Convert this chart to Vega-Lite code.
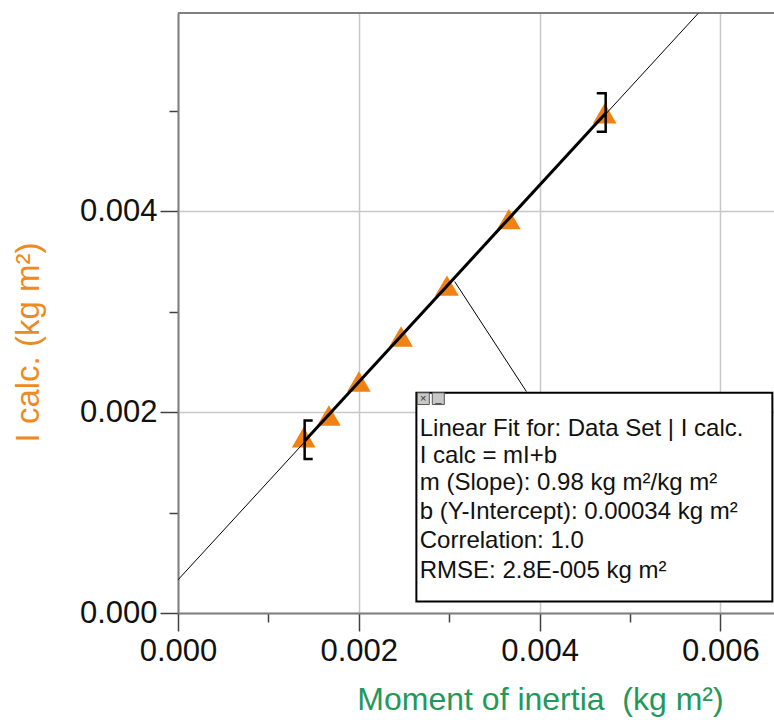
{
  "$schema": "https://vega.github.io/schema/vega-lite/v6.json",
  "width": 596,
  "height": 600,
  "autosize": {"type": "none"},
  "padding": {"left": 178, "top": 13, "right": 0, "bottom": 107},
  "background": "white",
  "config": {
    "view": {"stroke": null},
    "font": "Liberation Sans"
  },
  "encoding": {
    "x": {
      "field": "x", "type": "quantitative",
      "scale": {"domain": [0, 0.006593], "nice": false, "zero": false},
      "axis": {
        "values": [0, 0.001, 0.002, 0.003, 0.004, 0.005, 0.006],
        "format": ".3f",
        "labelExpr": "round(datum.value*1000) % 2 == 0 ? datum.label : ''",
        "tickSize": {"condition": {"test": "round(datum.value*1000) % 2 == 0", "value": 18}, "value": 9},
        "gridOpacity": {"condition": {"test": "round(datum.value*1000) % 2 == 0", "value": 1}, "value": 0},
        "gridColor": "#c8c8c8", "gridWidth": 1.5,
        "domainColor": "#808080", "domainWidth": 2,
        "tickColor": "#404040", "tickWidth": 1.5,
        "labelFont": "Liberation Sans", "labelFontSize": 31, "labelColor": "#111111", "labelPadding": 5,
        "labelFlush": false, "labelOverlap": false,
        "title": "Moment of inertia\u00a0 (kg m²)",
        "titleFont": "Liberation Sans", "titleFontSize": 32, "titleFontWeight": "normal", "titleColor": "#24985A",
        "titleX": 362, "titleY": 96, "titleBaseline": "alphabetic", "titleAlign": "center"
      }
    },
    "y": {
      "field": "y", "type": "quantitative",
      "scale": {"domain": [0, 0.005973], "nice": false, "zero": false},
      "axis": {
        "values": [0, 0.001, 0.002, 0.003, 0.004, 0.005],
        "format": ".3f",
        "labelExpr": "round(datum.value*1000) % 2 == 0 ? datum.label : ''",
        "tickSize": {"condition": {"test": "round(datum.value*1000) % 2 == 0", "value": 18}, "value": 9},
        "gridOpacity": {"condition": {"test": "round(datum.value*1000) % 2 == 0", "value": 1}, "value": 0},
        "gridColor": "#c8c8c8", "gridWidth": 1.5,
        "domainColor": "#808080", "domainWidth": 2,
        "tickColor": "#404040", "tickWidth": 1.5,
        "labelFont": "Liberation Sans", "labelFontSize": 31, "labelColor": "#111111", "labelPadding": 3,
        "labelFlush": false, "labelOverlap": false,
        "title": "I calc. (kg m²)",
        "titleFont": "Liberation Sans", "titleFontSize": 33, "titleFontWeight": "normal", "titleColor": "#EE8A22",
        "titleX": -140, "titleY": 329, "titleBaseline": "alphabetic", "titleAlign": "center", "titleAngle": -90
      }
    }
  },
  "layer": [
    {
      "data": {"values": [{"x": 0, "y": 0.005973}, {"x": 0.006593, "y": 0.005973}]},
      "mark": {"type": "line", "color": "#808080", "strokeWidth": 2}
    },
    {
      "data": {"values": [
        {"x": 0.001390, "y": 0.001749},
        {"x": 0.001669, "y": 0.001965},
        {"x": 0.002001, "y": 0.002304},
        {"x": 0.002467, "y": 0.002752},
        {"x": 0.002975, "y": 0.003259},
        {"x": 0.003660, "y": 0.003921},
        {"x": 0.004720, "y": 0.004975}
      ]},
      "mark": {"type": "point", "shape": "triangle-up", "filled": true, "size": 560, "color": "#F08214", "opacity": 1}
    },
    {
      "data": {"values": [{"x": 0, "y": 0.00033}, {"x": 0.005755, "y": 0.00597}]},
      "mark": {"type": "line", "color": "#000000", "strokeWidth": 1, "clip": true}
    },
    {
      "data": {"values": [{"x": 0.001401, "y": 0.001713}, {"x": 0.004731, "y": 0.004976}]},
      "mark": {"type": "line", "color": "#000000", "strokeWidth": 3}
    },
    {
      "data": {"values": [
        {"side": "left", "o": 1, "x": 0.001490, "y": 0.001916},
        {"side": "left", "o": 2, "x": 0.001401, "y": 0.001916},
        {"side": "left", "o": 3, "x": 0.001401, "y": 0.001532},
        {"side": "left", "o": 4, "x": 0.001490, "y": 0.001532},
        {"side": "right", "o": 1, "x": 0.004632, "y": 0.005174},
        {"side": "right", "o": 2, "x": 0.004731, "y": 0.005174},
        {"side": "right", "o": 3, "x": 0.004731, "y": 0.004792},
        {"side": "right", "o": 4, "x": 0.004632, "y": 0.004792}
      ]},
      "mark": {"type": "line", "color": "#000000", "strokeWidth": 2.5, "strokeJoin": "miter", "strokeCap": "butt"},
      "encoding": {"detail": {"field": "side"}, "order": {"field": "o", "type": "quantitative"}}
    },
    {
      "data": {"values": [{"x": 0.003061, "y": 0.003299}, {"x": 0.003854, "y": 0.002205}]},
      "mark": {"type": "line", "color": "#000000", "strokeWidth": 1}
    },
    {
      "data": {"values": [{"x": 0.002637, "x2": 0.006575, "y": 0.002192, "y2": 0.000115}]},
      "mark": {"type": "rect", "fill": "white", "stroke": "#000000", "strokeWidth": 2},
      "encoding": {"x2": {"field": "x2"}, "y2": {"field": "y2"}}
    },
    {
      "data": {"values": [
        {"x": 0.002647, "x2": 0.002780, "y": 0.002192, "y2": 0.002075, "t": "x"},
        {"x": 0.002813, "x2": 0.002946, "y": 0.002192, "y2": 0.002075, "t": "_"}
      ]},
      "mark": {"type": "rect", "fill": "#c8c8c8", "stroke": "#555555", "strokeWidth": 1},
      "encoding": {"x2": {"field": "x2"}, "y2": {"field": "y2"}}
    },
    {
      "data": {"values": [
        {"x": 0.002713, "y": 0.002133, "t": "×"},
        {"x": 0.002880, "y": 0.002133, "t": "_"}
      ]},
      "mark": {"type": "text", "font": "Liberation Sans", "fontSize": 11, "color": "#333333", "align": "center", "baseline": "middle"},
      "encoding": {"text": {"field": "t"}}
    },
    {
      "data": {"values": [
        {"x": 0.002674, "y": 0.001764, "t": "Linear Fit for: Data Set | I calc."},
        {"x": 0.002674, "y": 0.001495, "t": "I calc = mI+b"},
        {"x": 0.002674, "y": 0.001227, "t": "m (Slope): 0.98 kg m²/kg m²"},
        {"x": 0.002674, "y": 0.000938, "t": "b (Y-Intercept): 0.00034 kg m²"},
        {"x": 0.002674, "y": 0.000650, "t": "Correlation: 1.0"},
        {"x": 0.002674, "y": 0.000351, "t": "RMSE: 2.8E-005 kg m²"}
      ]},
      "mark": {"type": "text", "font": "Liberation Sans", "fontSize": 24, "color": "#111111", "align": "left", "baseline": "alphabetic"},
      "encoding": {"text": {"field": "t"}}
    }
  ]
}
